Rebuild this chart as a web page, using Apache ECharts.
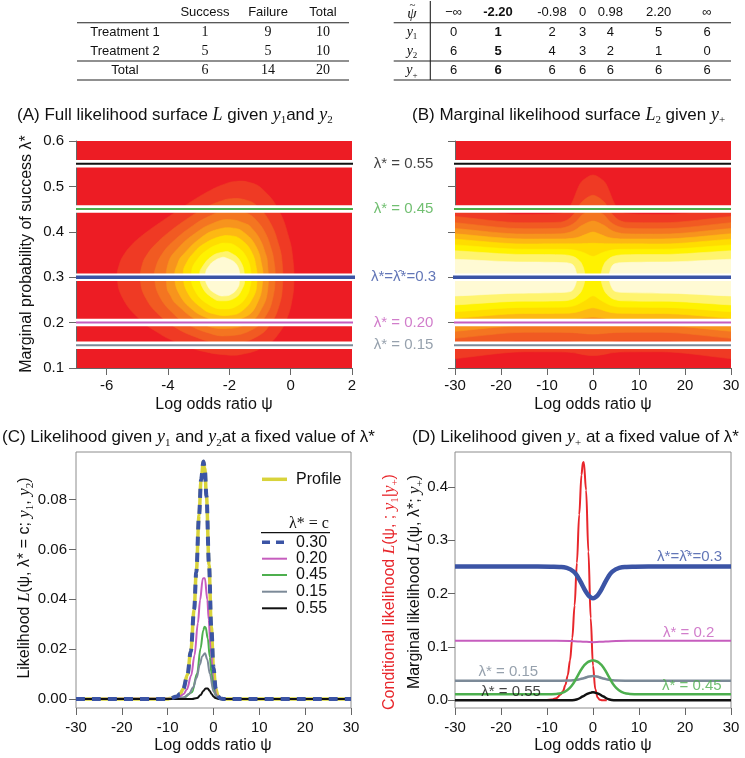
<!DOCTYPE html>
<html><head><meta charset="utf-8">
<script src="https://cdn.jsdelivr.net/npm/echarts@6/dist/echarts.min.js"></script>
<style>html,body{margin:0;padding:0;background:#fff}#c{width:745px;height:758px}</style>
</head><body><div id="c"></div>
<script>
// ---------------- data: tables ----------------
const t1Cols = ['Success', 'Failure', 'Total'];
const t1RowNames = ['Treatment 1', 'Treatment 2', 'Total'];
const t1Success = [1, 5, 6];
const t1Failure = [9, 5, 14];
const t1Total = [10, 10, 20];
const t2PsiLabels = ['\u2212\u221E', '-2.20', '-0.98', '0', '0.98', '2.20', '\u221E'];
const t2Y1 = [0, 1, 2, 3, 4, 5, 6];
const t2Y2 = [6, 5, 4, 3, 2, 1, 0];
const t2Yplus = [6, 6, 6, 6, 6, 6, 6];
const t2BoldCol = 1;

// ---------------- data: axis ticks ----------------
const xTicksA = [-6, -4, -2, 0, 2];
const xTicksWide = [-30, -20, -10, 0, 10, 20, 30];
const yTicksAB = [0.1, 0.2, 0.3, 0.4, 0.5, 0.6];
const yTicksC = [0, 0.02, 0.04, 0.06, 0.08];
const yTicksD = [0, 0.1, 0.2, 0.3, 0.4];

// ---------------- data: fixed lambda* lines ----------------
const lamLevels = [0.55, 0.45, 0.3, 0.2, 0.15];
const lamLabels = ['\u03BB* = 0.55', '\u03BB* = 0.45', '\u03BB*=\u03BB\u0302*=0.3', '\u03BB* = 0.20', '\u03BB* = 0.15'];

// ---------------- data: panel A contour bands (psi, lambda*) ----------------
const contA1 = [[-5.46,0.252],[-5.654,0.297],[-5.58,0.329],[-5.411,0.352],[-5.17,0.372],[-4.98,0.384],[-4.684,0.4],[-4.268,0.42],[-3.591,0.451],[-3.092,0.473],[-2.654,0.49],[-2.234,0.503],[-1.799,0.511],[-1.306,0.508],[-0.925,0.494],[-0.41,0.45],[-0.054,0.386],[0.068,0.342],[0.105,0.289],[0.036,0.247],[-0.118,0.21],[-0.378,0.177],[-0.803,0.149],[-1.62,0.13],[-2.268,0.13],[-2.804,0.136],[-3.199,0.143],[-3.779,0.158],[-4.33,0.178],[-4.932,0.208]];
const contA2 = [[-4.724,0.254],[-4.899,0.293],[-4.836,0.328],[-4.66,0.352],[-4.4,0.373],[-4.008,0.397],[-3.344,0.43],[-2.839,0.451],[-2.383,0.465],[-1.928,0.473],[-1.416,0.469],[-1.081,0.456],[-0.667,0.42],[-0.381,0.369],[-0.278,0.331],[-0.27,0.277],[-0.389,0.235],[-0.631,0.2],[-1.05,0.171],[-1.88,0.153],[-2.552,0.157],[-3.124,0.169],[-3.673,0.186],[-4.291,0.217]];
const contA3 = [[-4.269,0.257],[-4.439,0.298],[-4.396,0.322],[-4.191,0.351],[-3.829,0.379],[-3.178,0.414],[-2.666,0.434],[-2.191,0.446],[-1.691,0.447],[-1.393,0.44],[-1.159,0.428],[-0.849,0.4],[-0.632,0.362],[-0.545,0.335],[-0.507,0.303],[-0.581,0.255],[-0.804,0.216],[-1.217,0.186],[-2.059,0.171],[-2.761,0.179],[-3.388,0.198],[-3.799,0.218]];
const contA4 = [[-3.923,0.26],[-4.036,0.278],[-4.0,0.329],[-3.68,0.363],[-3.043,0.4],[-2.524,0.419],[-2.024,0.427],[-1.439,0.417],[-1.27,0.408],[-1.008,0.384],[-0.822,0.352],[-0.758,0.333],[-0.748,0.273],[-0.946,0.231],[-1.351,0.2],[-2.208,0.187],[-2.952,0.201],[-3.748,0.242]];
const contA5 = [[-3.635,0.263],[-3.78,0.303],[-3.678,0.331],[-3.541,0.347],[-2.922,0.387],[-2.396,0.405],[-1.859,0.408],[-1.533,0.399],[-1.15,0.37],[-0.941,0.326],[-0.913,0.292],[-1.074,0.245],[-1.472,0.213],[-2.347,0.203],[-2.678,0.209],[-3.172,0.227]];
const contA6 = [[-3.368,0.267],[-3.498,0.31],[-3.399,0.331],[-3.157,0.354],[-2.81,0.374],[-2.271,0.39],[-1.93,0.391],[-1.665,0.385],[-1.295,0.358],[-1.107,0.315],[-1.102,0.289],[-1.199,0.259],[-1.584,0.226],[-2.015,0.216],[-2.489,0.219],[-2.858,0.23]];
const contA7 = [[-3.127,0.271],[-3.232,0.311],[-3.033,0.34],[-2.697,0.361],[-2.365,0.372],[-2.136,0.375],[-1.815,0.37],[-1.45,0.345],[-1.287,0.305],[-1.334,0.276],[-1.437,0.258],[-1.697,0.239],[-2.139,0.23],[-2.656,0.239]];
const contA8 = [[-2.873,0.277],[-2.965,0.307],[-2.888,0.322],[-2.572,0.346],[-2.226,0.355],[-1.966,0.354],[-1.622,0.333],[-1.504,0.296],[-1.576,0.275],[-1.822,0.254],[-2.285,0.248],[-2.539,0.254]];
const contA9 = [[-2.711,0.281],[-2.774,0.309],[-2.648,0.326],[-2.487,0.336],[-2.317,0.342],[-2.125,0.343],[-1.738,0.325],[-1.677,0.287],[-1.765,0.273],[-1.907,0.264],[-2.102,0.259],[-2.398,0.262]];

// ---------------- data: panel B contour bands (psi, lambda*) ----------------
const contB1 = [[-45,0.4381],[-15,0.4381],[-7,0.4407],[-5.5,0.449],[-4.3,0.47],[-3.4,0.4933],[-2.4,0.5113],[0,0.525],[2.4,0.5113],[3.4,0.4933],[4.3,0.47],[5.5,0.449],[7,0.4407],[15,0.4381],[45,0.4381],[45,0.1357],[15,0.1357],[6,0.1353],[4.4,0.1339],[3.4,0.1322],[2.6,0.1305],[1.7,0.1289],[0,0.1274],[-1.7,0.1289],[-2.6,0.1305],[-3.4,0.1322],[-4.4,0.1339],[-6,0.1353],[-15,0.1357],[-45,0.1357]];
const contB2 = [[-45,0.4198],[-15,0.4198],[-7,0.4213],[-5.5,0.4266],[-4.3,0.4376],[-3.4,0.4494],[-2.4,0.4661],[0,0.4805],[2.4,0.4661],[3.4,0.4494],[4.3,0.4376],[5.5,0.4266],[7,0.4213],[15,0.4198],[45,0.4198],[45,0.1603],[15,0.1603],[6,0.16],[4.4,0.1591],[3.4,0.1578],[2.6,0.1565],[1.7,0.1552],[0,0.1538],[-1.7,0.1552],[-2.6,0.1565],[-3.4,0.1578],[-4.4,0.1591],[-6,0.16],[-15,0.1603],[-45,0.1603]];
const contB3 = [[-45,0.4068],[-15,0.4068],[-7,0.4079],[-5.5,0.4117],[-4.3,0.4176],[-3.4,0.4253],[-2.4,0.4371],[0,0.4499],[2.4,0.4371],[3.4,0.4253],[4.3,0.4176],[5.5,0.4117],[7,0.4079],[15,0.4068],[45,0.4068],[45,0.1786],[15,0.1786],[6,0.1784],[4.4,0.1779],[3.4,0.1772],[2.6,0.1765],[1.7,0.1756],[0,0.1747],[-1.7,0.1756],[-2.6,0.1765],[-3.4,0.1772],[-4.4,0.1779],[-6,0.1784],[-15,0.1786],[-45,0.1786]];
const contB4 = [[-45,0.3949],[-15,0.3949],[-7,0.3955],[-5.5,0.3978],[-4.3,0.4017],[-3.4,0.4072],[-2.4,0.4142],[0,0.4237],[2.4,0.4142],[3.4,0.4072],[4.3,0.4017],[5.5,0.3978],[7,0.3955],[15,0.3949],[45,0.3949],[45,0.1933],[15,0.1933],[0,0.1932],[-15,0.1933],[-45,0.1933]];
const contB5 = [[-45,0.3841],[-15,0.3841],[-6,0.3844],[-4.4,0.3856],[-3.4,0.3875],[-2.6,0.3901],[-1.7,0.3938],[0,0.3994],[1.7,0.3938],[2.6,0.3901],[3.4,0.3875],[4.4,0.3856],[6,0.3844],[15,0.3841],[45,0.3841],[45,0.207],[15,0.207],[6,0.2072],[4.4,0.2078],[3.4,0.2086],[2.6,0.2096],[1.7,0.2108],[0,0.2122],[-1.7,0.2108],[-2.6,0.2096],[-3.4,0.2086],[-4.4,0.2078],[-6,0.2072],[-15,0.207],[-45,0.207]];
const contB6 = [[-45,0.3732],[-15,0.3732],[-3.4,0.3735],[-1.7,0.3741],[0,0.3747],[1.7,0.3741],[3.4,0.3735],[15,0.3732],[45,0.3732],[45,0.22],[15,0.22],[6,0.2204],[4.4,0.2217],[3.4,0.2235],[2.6,0.2258],[1.7,0.2288],[0,0.2327],[-1.7,0.2288],[-2.6,0.2258],[-3.4,0.2235],[-4.4,0.2217],[-6,0.2204],[-15,0.22],[-45,0.22]];
const contB7 = [[-45,0.3616],[-15,0.3616],[-6,0.3613],[-4.4,0.3602],[-3.4,0.3585],[-2.6,0.3561],[-1.7,0.3527],[0,0.3457],[1.7,0.3527],[2.6,0.3561],[3.4,0.3585],[4.4,0.3602],[6,0.3613],[15,0.3616],[45,0.3616],[45,0.2335],[15,0.2335],[6,0.2341],[4.4,0.2364],[3.4,0.2398],[2.6,0.244],[1.7,0.2493],[0,0.2592],[-1.7,0.2493],[-2.6,0.244],[-3.4,0.2398],[-4.4,0.2364],[-6,0.2341],[-15,0.2335],[-45,0.2335]];
const contB8L = [[-45,0.35],[-15,0.35],[-6,0.3491],[-4.4,0.3459],[-3.4,0.3403],[-2.6,0.3323],[-2.0,0.318],[-1.7,0.3],[-2.0,0.283],[-2.6,0.2677],[-3.4,0.2588],[-4.4,0.2518],[-6,0.2482],[-15,0.2472],[-45,0.2472]];
const contB8R = [[45,0.35],[15,0.35],[6,0.3491],[4.4,0.3459],[3.4,0.3403],[2.6,0.3323],[2.0,0.318],[1.7,0.3],[2.0,0.283],[2.6,0.2677],[3.4,0.2588],[4.4,0.2518],[6,0.2482],[15,0.2472],[45,0.2472]];
const contB9L = [[-45,0.3334],[-15,0.3334],[-6,0.3319],[-4.6,0.329],[-4.0,0.322],[-3.6,0.309],[-3.45,0.3],[-3.6,0.291],[-4.0,0.279],[-4.6,0.27],[-6,0.2667],[-15,0.2649],[-45,0.2649]];
const contB9R = [[45,0.3334],[15,0.3334],[6,0.3319],[4.6,0.329],[4.0,0.322],[3.6,0.309],[3.45,0.3],[3.6,0.291],[4.0,0.279],[4.6,0.27],[6,0.2667],[15,0.2649],[45,0.2649]];

// ---------------- data: panel C curves (psi, likelihood) ----------------
const curveProfile = [[-30,0],[-10,0.00005],[-9.6,0.0002],[-8.0,0.001],[-7.31,0.002],[-6.61,0.004],[-5.68,0.0098],[-4.96,0.0191],[-4.22,0.036],[-3.76,0.0508],[-3.15,0.0737],[-2.71,0.088],[-2.2,0.0953],[-1.91,0.0927],[-1.53,0.0813],[-0.98,0.0539],[-0.48,0.0288],[0,0.0125],[0.48,0.0042],[0.98,0.0011],[1.53,0.0002],[2.2,0.00001],[3,0],[30,0]];
const curveC30 = [[-30,0],[-10,0.00005],[-9.6,0.0002],[-8.0,0.001],[-7.31,0.002],[-6.61,0.004],[-5.68,0.0098],[-4.96,0.0191],[-4.22,0.036],[-3.76,0.0508],[-3.15,0.0737],[-2.71,0.088],[-2.2,0.0953],[-1.91,0.0927],[-1.53,0.0813],[-0.98,0.0539],[-0.48,0.0288],[0,0.0125],[0.48,0.0042],[0.98,0.0011],[1.53,0.0002],[2.2,0.00001],[3,0],[30,0]];
const curveC20 = [[-30,0],[-9,0.0001],[-7.5,0.0008],[-6.5,0.002],[-5.8,0.0039],[-4.87,0.0094],[-4.15,0.0175],[-3.4,0.0305],[-2.94,0.0396],[-2.33,0.0484],[-1.88,0.0485],[-1.35,0.0399],[-1.05,0.0319],[-0.64,0.0203],[0,0.0071],[0.64,0.0016],[1.35,0.0002],[2.5,0],[30,0]];
const curveC45 = [[-30,0],[-8.5,0.00002],[-6.69,0.0002],[-4.68,0.0027],[-3.58,0.0102],[-2.83,0.0203],[-2.23,0.0276],[-1.97,0.029],[-1.72,0.0288],[-1.25,0.0243],[-0.82,0.017],[-0.41,0.0099],[0,0.0048],[0.41,0.002],[0.82,0.0006],[1.25,0.0002],[2.5,0],[30,0]];
const curveC15 = [[-30,0],[-8,0.0001],[-6.5,0.0007],[-5.35,0.002],[-4.42,0.0047],[-3.7,0.0085],[-2.95,0.014],[-2.48,0.0171],[-1.85,0.0184],[-1.38,0.016],[-0.81,0.0102],[0,0.003],[0.81,0.0004],[1.8,0],[30,0]];
const curveC55 = [[-30,0],[-5.5,0],[-4.68,0.00002],[-3.58,0.0004],[-2.83,0.0016],[-2.23,0.0032],[-1.72,0.0042],[-1.25,0.0042],[-0.82,0.0032],[-0.41,0.002],[0,0.001],[0.41,0.0004],[1.25,0.00003],[2.5,0],[30,0]];
const legendCLabels = ['0.30', '0.20', '0.45', '0.15', '0.55'];

// ---------------- data: panel D curves (psi, likelihood) ----------------
const curveCond = [[-10,0.0006],[-9,0.0015],[-8,0.004],[-7,0.0108],[-6.5,0.0177],[-6,0.0289],[-5.5,0.0467],[-5,0.0747],[-4.5,0.117],[-4,0.178],[-3.5,0.258],[-3,0.348],[-2.5,0.423],[-2.2,0.446],[-2,0.447],[-1.5,0.394],[-1,0.279],[-0.5,0.154],[0,0.065],[0.5,0.0208],[1,0.0051],[1.5,0.001],[2,0.0002],[3,0]];
const curveD30 = [[-30,0.2508],[-12,0.2508],[-9,0.2506],[-7.3,0.2502],[-5.7,0.2484],[-4.2,0.2413],[-3.15,0.2291],[-2.2,0.2138],[-1.53,0.2033],[-0.98,0.1966],[-0.48,0.193],[0,0.1916],[0.48,0.193],[0.98,0.1966],[1.53,0.2033],[2.2,0.2138],[3.15,0.2291],[4.2,0.2413],[5.7,0.2484],[7.3,0.2502],[9,0.2506],[12,0.2508],[30,0.2508]];
const curveD20 = [[-30,0.1115],[-8,0.1115],[-5,0.1112],[-3.3,0.1105],[-2.2,0.11],[-1.35,0.1096],[0,0.1091],[1.35,0.1096],[2.2,0.11],[3.3,0.1105],[5,0.1112],[8,0.1115],[30,0.1115]];
const curveD15 = [[-30,0.0368],[-7,0.0368],[-5,0.0371],[-3.7,0.038],[-2.8,0.0398],[-1.85,0.0419],[-0.81,0.0446],[0,0.0454],[0.81,0.0446],[1.85,0.0419],[2.8,0.0398],[3.7,0.038],[5,0.0371],[7,0.0368],[30,0.0368]];
const curveD45 = [[-30,0.0112],[-10,0.0113],[-8,0.012],[-6.7,0.014],[-5.7,0.0185],[-4.68,0.0268],[-3.58,0.0421],[-2.23,0.0621],[-1.25,0.071],[-0.4,0.0742],[0,0.0749],[0.4,0.0742],[1.25,0.071],[2.23,0.0621],[3.58,0.0421],[4.68,0.0268],[5.7,0.0185],[6.7,0.014],[8,0.012],[10,0.0113],[30,0.0112]];
const curveD55 = [[-30,0],[-6,0],[-4.7,0.0002],[-3.58,0.0016],[-2.23,0.0072],[-1.25,0.0121],[-0.4,0.0145],[0,0.015],[0.4,0.0145],[1.25,0.0121],[2.23,0.0072],[3.58,0.0016],[4.7,0.0002],[6,0],[30,0]];
const dLabelText = ['\u03BB*=\u03BB\u0302*=0.3', '\u03BB* = 0.2', '\u03BB* = 0.15', '\u03BB* = 0.55', '\u03BB* = 0.45'];
const dLabelPsi = [21, 20.8, -18.4, -17.8, 21.5];
const dLabelVal = [0.269, 0.126, 0.053, 0.0156, 0.0268];

// ---------------- styles ----------------
const SANS = '"Liberation Sans", Arial, Helvetica, sans-serif';
const SERIF = '"Liberation Serif", "DejaVu Serif", serif';
const heatCols = ['#ED1C24','#EF3A24','#F15A22','#F47521','#F7941D','#FDB813','#FFDD00','#FFF200','#FFF46E','#FFFAD4'];
const lamColors = ['#111111', '#4DAF4E', '#3B54A5', '#C65DBE', '#7C8A98'];
const lamWidths = [2, 2, 3.5, 2, 2];
const armEndA = [2.42, 2.42, 2.53, 2.5, 2.5];
const armStartB = [-33, -33, -33.3, -33, -33];
const cColors = ['#3B54A5', '#C65DBE', '#4DAF4E', '#7C8A98', '#111111'];
const dColors = ['#3B54A5', '#C65DBE', '#7C8A98', '#111111', '#4DAF4E'];
const RED = '#E8262B';
const YEL = '#D8D33B';

function rich(fs, col) {
  return {
    t: {fontFamily: SANS, fontSize: fs, fill: col, lineHeight: fs + 5},
    m: {fontFamily: SERIF, fontStyle: 'italic', fontSize: fs + 1, fill: col, lineHeight: fs + 5},
    r: {fontFamily: SERIF, fontSize: fs, fill: col, lineHeight: fs + 5},
    s: {fontFamily: SERIF, fontSize: Math.round(fs * 0.66), fill: col, verticalAlign: 'bottom', lineHeight: Math.round(fs * 0.75)}
  };
}

const chart = echarts.init(document.getElementById('c'), null, {renderer: 'canvas', width: 745, height: 758});

const series = [];
function poly(points, color, gi, smooth) {
  return {
    type: 'custom', coordinateSystem: 'cartesian2d', xAxisIndex: gi, yAxisIndex: gi,
    clip: true, silent: true, z: 2, data: points, encode: {x: 0, y: 1},
    renderItem: function (params, api) {
      if (params.dataIndex !== 0) return null;
      const pts = points.map(function (p) { return api.coord(p); });
      return {type: 'polygon', shape: {points: pts, smooth: smooth}, style: {fill: color, stroke: color, lineWidth: 0.6}};
    }
  };
}
[contA1, contA2, contA3, contA4, contA5, contA6, contA7, contA8, contA9].forEach(function (c, k) {
  series.push(poly(c, heatCols[k + 1], 0, 0.45));
});
const bList = [contB1, contB2, contB3, contB4, contB5, contB6, contB7, contB8L, contB8R, contB9L, contB9R];
const bLevel = [1, 2, 3, 4, 5, 6, 7, 8, 8, 9, 9];
bList.forEach(function (c, i) { series.push(poly(c, heatCols[bLevel[i]], 1, 0.3)); });

function hline(gi, data, color, width, clip, z) {
  return {type: 'line', xAxisIndex: gi, yAxisIndex: gi, data: data, symbol: 'none', silent: true, clip: clip, z: z,
    lineStyle: {color: color, width: width, cap: 'butt'}};
}
lamLevels.forEach(function (v, i) {
  series.push(hline(0, [[-7, v], [2, v]], '#ffffff', 7.5, true, 4));
  series.push(hline(1, [[-30, v], [30, v]], '#ffffff', 7.5, true, 4));
});
lamLevels.forEach(function (v, i) {
  series.push(hline(0, [[-7, v], [armEndA[i], v]], lamColors[i], lamWidths[i], false, 5));
  series.push(hline(1, [[armStartB[i], v], [30, v]], lamColors[i], lamWidths[i], false, 5));
});
series.push({
  type: 'scatter', xAxisIndex: 0, yAxisIndex: 0, clip: false, symbolSize: 1, silent: true, z: 6,
  itemStyle: {color: 'rgba(0,0,0,0)'},
  data: lamLevels.map(function (v, i) {
    return {value: [3.68, v], label: {show: true, position: 'inside', formatter: lamLabels[i], color: lamColors[i], fontSize: 15, fontFamily: SANS}};
  })
});

function curve(gi, data, color, width, type, z, sm, mono) {
  return {type: 'line', xAxisIndex: gi, yAxisIndex: gi, data: data, symbol: 'none', smooth: sm || 0.35, smoothMonotone: mono === false ? null : 'x',
    silent: true, clip: true, z: z || 3, lineStyle: {color: color, width: width, type: type || 'solid', cap: 'butt'}};
}
series.push(curve(2, curveProfile, YEL, 3.5));
series.push(curve(2, curveC20, cColors[1], 2));
series.push(curve(2, curveC45, cColors[2], 2));
series.push(curve(2, curveC15, cColors[3], 2));
series.push(curve(2, curveC55, cColors[4], 2));
series.push(curve(2, curveC30, cColors[0], 4, [9, 7], 4));

series.push(curve(3, curveCond, RED, 2));
series.push(curve(3, curveD30, dColors[0], 4.5, 'solid', 3, 0.5, false));
series.push(curve(3, curveD20, dColors[1], 2, 'solid', 3, 0.5, false));
series.push(curve(3, curveD15, dColors[2], 2.5, 'solid', 3, 0.5, false));
series.push(curve(3, curveD45, dColors[4], 2.5, 'solid', 3, 0.5, false));
series.push(curve(3, curveD55, dColors[3], 2.5, 'solid', 3, 0.5, false));
series.push({
  type: 'scatter', xAxisIndex: 3, yAxisIndex: 3, clip: false, symbolSize: 1, silent: true, z: 6,
  itemStyle: {color: 'rgba(0,0,0,0)'},
  data: dLabelText.map(function (t, i) {
    return {value: [dLabelPsi[i], dLabelVal[i]], label: {show: true, position: 'inside', formatter: t, color: dColors[i], fontSize: 15, fontFamily: SANS}};
  })
});

// ---------------- axes ----------------
const AX = '#666';
function xAx(gi, min, max, ticks, margin, showLine) {
  return {type: 'value', gridIndex: gi, min: min, max: max,
    axisLine: {show: showLine, onZero: false, lineStyle: {color: AX}},
    axisTick: {show: true, length: 7, customValues: ticks, lineStyle: {color: AX}},
    axisLabel: {customValues: ticks, margin: margin, color: '#111', fontFamily: SANS, fontSize: 15, formatter: function (v) { return String(v); }},
    splitLine: {show: false}};
}
function yAx(gi, min, max, ticks, margin, showLine, dec, showLabel) {
  return {type: 'value', gridIndex: gi, min: min, max: max,
    axisLine: {show: showLine, onZero: false, lineStyle: {color: AX}},
    axisTick: {show: true, length: 7, customValues: ticks, lineStyle: {color: AX}},
    axisLabel: {show: showLabel, customValues: ticks, margin: margin, color: '#111', fontFamily: SANS, fontSize: 15, formatter: function (v) { return v.toFixed(dec); }},
    splitLine: {show: false}};
}

// ---------------- graphics (tables, titles, axis names, legend) ----------------
const g = [];
function T(x, y, text, st, extra) {
  g.push(Object.assign({type: 'text', x: x, y: y, silent: true, z: 100,
    style: Object.assign({text: text, align: 'center', verticalAlign: 'middle', fill: '#111', fontFamily: SANS, fontSize: 13}, st)}, extra || {}));
}
function L(x1, y1, x2, y2, col, w, dash) {
  g.push({type: 'line', silent: true, z: 100, shape: {x1: x1, y1: y1, x2: x2, y2: y2}, style: {stroke: col, lineWidth: w, lineDash: dash || null}});
}
// table 1
const t1X = [205, 268, 323];
const rowY = [32.3, 51, 70.7];
t1Cols.forEach(function (c, i) { T(t1X[i], 12.7, c); });
L(77, 22.7, 349, 22.7, '#222', 1.1);
L(77, 61, 349, 61, '#222', 1.1);
L(77, 80, 349, 80, '#222', 1.1);
t1RowNames.forEach(function (n, r) {
  T(125, rowY[r], n);
  [t1Success[r], t1Failure[r], t1Total[r]].forEach(function (v, i) { T(t1X[i], rowY[r], String(v), {fontFamily: SERIF, fontSize: 14}); });
});
// table 2
const t2X = [453.7, 498, 552, 582.7, 610.3, 658.7, 707];
L(393.7, 22.7, 731, 22.7, '#222', 1.1);
L(393.7, 61, 731, 61, '#222', 1.1);
L(393.7, 80, 731, 80, '#222', 1.1);
L(430.3, 1, 430.3, 80, '#222', 1.1);
T(412, 14, '\u03C8', {fontFamily: SERIF, fontStyle: 'italic', fontSize: 15});
T(412.5, 5, '~', {fontFamily: SERIF, fontSize: 11});
const rr = rich(13, '#111');
T(412, 32.3, '{m|y}{s|1}', {rich: rr});
T(412, 51, '{m|y}{s|2}', {rich: rr});
T(412, 70.7, '{m|y}{s|+}', {rich: rr});
t2PsiLabels.forEach(function (s, i) { T(t2X[i], 12.7, s, {fontWeight: i === t2BoldCol ? 'bold' : 'normal'}); });
[t2Y1, t2Y2, t2Yplus].forEach(function (row, r) {
  row.forEach(function (v, i) { T(t2X[i], rowY[r], String(v), {fontWeight: i === t2BoldCol ? 'bold' : 'normal'}); });
});
// titles
const r17 = rich(17, '#111');
T(17, 115, '{t|(A) Full likelihood surface }{m|L}{t| given }{m|y}{s|1}{t|and }{m|y}{s|2}', {align: 'left', rich: r17});
T(412, 115, '{t|(B) Marginal likelihood surface }{m|L}{s|2}{t| given }{m|y}{s|+}', {align: 'left', rich: r17});
T(2, 437.7, '{t|(C) Likelihood given }{m|y}{s|1}{t| and }{m|y}{s|2}{t|at a fixed value of \u03BB*}', {align: 'left', rich: r17});
T(412, 437.7, '{t|(D) Likelihood given }{m|y}{s|+}{t| at a fixed value of \u03BB*}', {align: 'left', rich: r17});
// axis names
const r16 = rich(16, '#111');
const r16red = rich(16, RED);
[[214, 405], [593, 405], [213, 746], [593, 746]].forEach(function (p) {
  T(p[0], p[1], '{t|Log odds ratio \u03C8}', {rich: r16});
});
T(27, 254, '{t|Marginal probability of success \u03BB*}', {rich: r16}, {rotation: Math.PI / 2});
T(25, 578, '{t|Likelihood }{m|L}{t|(\u03C8, \u03BB* = c; }{m|y}{s|1}{t|, }{m|y}{s|2}{t|)}', {rich: r16}, {rotation: Math.PI / 2});
T(390, 592, '{t|Conditional likelihood }{m|L}{t|(\u03C8, ; }{m|y}{s|1}{t||}{m|y}{s|+}{t|)}', {rich: r16red}, {rotation: Math.PI / 2});
T(415, 582, '{t|Marginal likelihood }{m|L}{t|(\u03C8, \u03BB*; }{m|y}{s|+}{t|)}', {rich: r16}, {rotation: Math.PI / 2});
// legend panel C
L(262, 479.3, 287, 479.3, YEL, 3.5);
T(296, 479.3, 'Profile', {align: 'left', fontSize: 16});
T(309, 524, '\u03BB* = c', {fontFamily: SERIF, fontSize: 16});
L(261, 532.7, 330, 532.7, '#111', 1.2);
const legY = [542.3, 558.7, 575, 591.7, 608.3];
legendCLabels.forEach(function (s, i) {
  L(262, legY[i], 287, legY[i], cColors[i], i === 0 ? 3.5 : 2, i === 0 ? [8, 6] : null);
  T(296, legY[i], s, {align: 'left', fontSize: 16});
});

chart.setOption({
  animation: false,
  backgroundColor: '#ffffff',
  grid: [
    {left: 76, top: 141, width: 276, height: 227, show: true, backgroundColor: heatCols[0], borderWidth: 0},
    {left: 455, top: 141, width: 276, height: 227, show: true, backgroundColor: heatCols[0], borderWidth: 0},
    {left: 76, top: 452, width: 275, height: 256, show: true, borderColor: '#8c8c8c', borderWidth: 1},
    {left: 455, top: 452, width: 276, height: 256, show: true, borderColor: '#8c8c8c', borderWidth: 1}
  ],
  xAxis: [
    xAx(0, -7, 2, xTicksA, 10, true),
    xAx(1, -30, 30, xTicksWide, 10, true),
    xAx(2, -30, 30, xTicksWide, 12, false),
    xAx(3, -30, 30, xTicksWide, 12, false)
  ],
  yAxis: [
    yAx(0, 0.1, 0.6, yTicksAB, 12, true, 1, true),
    yAx(1, 0.1, 0.6, yTicksAB, 12, true, 1, false),
    yAx(2, -0.0036, 0.0991, yTicksC, 9, false, 2, true),
    yAx(3, -0.0144, 0.4656, yTicksD, 7, false, 1, true)
  ],
  series: series,
  graphic: g
});
</script></body></html>
